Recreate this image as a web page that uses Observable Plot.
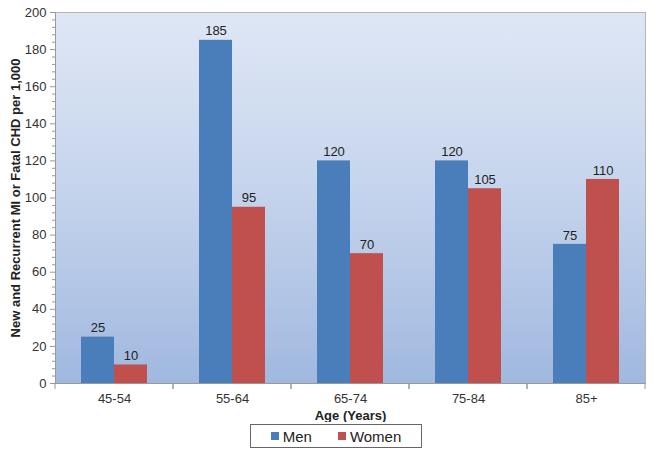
<!DOCTYPE html>
<html>
<head>
<meta charset="utf-8">
<script src="https://cdn.jsdelivr.net/npm/d3@7"></script>
<script src="https://cdn.jsdelivr.net/npm/@observablehq/plot@0.6"></script>
<style>
  body { margin: 0; background: #fff; font-family: "Liberation Sans", Arial, sans-serif; }
  #legend {
    margin: 2px 0 0 250px; width: 170px; height: 22px; box-sizing: content-box;
    border: 1px solid #666; display: flex; align-items: center; justify-content: center;
    gap: 26px; font-size: 15px; color: #222;
  }
  .item { display: flex; align-items: center; gap: 4px; }
  .sw { width: 8px; height: 8px; display: inline-block; }
</style>
</head>
<body>
<svg width="0" height="0" style="position:absolute">
  <defs>
    <linearGradient id="bgGrad" x1="0" y1="0" x2="0" y2="1">
      <stop offset="0" stop-color="#dfe7f5"/>
      <stop offset="0.5" stop-color="#c4d3ec"/>
      <stop offset="1" stop-color="#a0b8df"/>
    </linearGradient>
  </defs>
</svg>
<div id="chart"></div>
<div id="legend"></div>
<script>
const ageGroups = ["45-54", "55-64", "65-74", "75-84", "85+"];
const menValues = [25, 185, 120, 120, 75];
const womenValues = [10, 95, 70, 105, 110];
const seriesNames = ["Men", "Women"];
const seriesColors = ["#4a7ebb", "#c0504d"];
const yTicks = [0, 20, 40, 60, 80, 100, 120, 140, 160, 180, 200];
const yMinorTicks = [4, 8, 12, 16, 24, 28, 32, 36, 44, 48, 52, 56, 64, 68, 72, 76, 84, 88, 92, 96,
  104, 108, 112, 116, 124, 128, 132, 136, 144, 148, 152, 156, 164, 168, 172, 176, 184, 188, 192, 196];
const yTitle = "New and Recurrent MI or Fatal CHD per 1,000";
const xTitle = "Age (Years)";

const table = ageGroups.flatMap((age, i) => [
  {age, sex: seriesNames[0], value: menValues[i]},
  {age, sex: seriesNames[1], value: womenValues[i]}
]);

function boundaryTicks(index, scales, values, dimensions) {
  const [x0, x1] = scales.x.range();
  const y0 = dimensions.height - dimensions.marginBottom;
  const g = d3.create("svg:g").attr("stroke", "#999");
  for (const x of [x0, x1]) {
    g.append("line").attr("x1", x).attr("x2", x).attr("y1", y0).attr("y2", y0 + 6);
  }
  return g.node();
}

const chart = Plot.plot({
  width: 654,
  height: 422,
  marginLeft: 54,
  marginRight: 9,
  marginTop: 12,
  marginBottom: 39,
  style: {fontFamily: "Liberation Sans, Arial, sans-serif", fontSize: "13px", color: "#333", background: "transparent"},
  fx: {domain: ageGroups, padding: 0, axis: "bottom", tickSize: 0, tickPadding: 10, label: null},
  x: {domain: seriesNames, paddingInner: 0, paddingOuter: 0.74, axis: null},
  y: {domain: [0, 200], axis: null},
  color: {domain: seriesNames, range: seriesColors},
  marks: [
    Plot.frame({fill: "url(#bgGrad)", stroke: null, facet: "super"}),
    Plot.frame({anchor: "top", stroke: "#b4b4b4", facet: "super"}),
    Plot.frame({anchor: "right", stroke: "#b4b4b4", facet: "super"}),
    Plot.barY(table, {fx: "age", x: "sex", y: "value", fill: "sex"}),
    Plot.text(table, {fx: "age", x: "sex", y: "value", text: d => String(d.value), dy: -9, fill: "#222", fontSize: 13}),
    Plot.axisY(yMinorTicks, {tickSize: 3, tickFormat: () => "", stroke: "#999", label: null}),
    Plot.axisY(yTicks, {tickSize: 5, tickPadding: 4, stroke: "#999", fill: "#333", fontSize: 13, label: null}),
    Plot.frame({anchor: "left", stroke: "#999", facet: "super"}),
    Plot.frame({anchor: "bottom", stroke: "#999", facet: "super"}),
    boundaryTicks,
    Plot.text([yTitle], {text: d => d, frameAnchor: "left", textAnchor: "middle", lineAnchor: "middle", rotate: -90, dx: -40, fontWeight: "bold", fontSize: 13, fill: "#222", facet: "super"}),
    Plot.text([xTitle], {text: d => d, frameAnchor: "bottom", textAnchor: "middle", lineAnchor: "middle", dy: 32, fontWeight: "bold", fontSize: 13, fill: "#222", facet: "super"})
  ]
});
document.getElementById("chart").appendChild(chart);

const legend = document.getElementById("legend");
seriesNames.forEach((name, i) => {
  const item = document.createElement("span");
  item.className = "item";
  const sw = document.createElement("span");
  sw.className = "sw";
  sw.style.background = seriesColors[i];
  const label = document.createElement("span");
  label.textContent = name;
  item.appendChild(sw);
  item.appendChild(label);
  legend.appendChild(item);
});
</script>
</body>
</html>
